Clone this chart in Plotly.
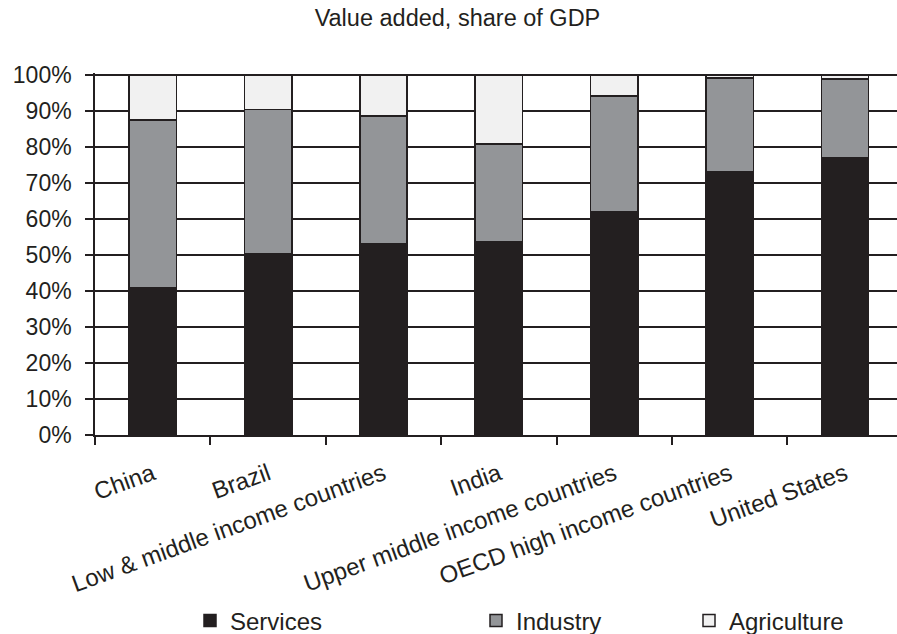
import plotly.graph_objects as go

categories = ["China", "Brazil", "Low & middle income countries", "India",
              "Upper middle income countries", "OECD high income countries", "United States"]
services = [41.0, 50.2, 53.0, 53.6, 61.9, 73.0, 76.9]
industry = [46.5, 40.1, 35.5, 27.2, 32.2, 26.1, 22.0]
agriculture = [12.5, 9.7, 11.5, 19.2, 5.9, 0.9, 1.1]

title_text = "Value added, share of GDP"
ytick_vals = [0, 10, 20, 30, 40, 50, 60, 70, 80, 90, 100]
ytick_text = [f"{v}%" for v in ytick_vals]

DARK = "#231f20"
FONT = "Liberation Sans, Arial, sans-serif"

fig = go.Figure()
series = [
    ("Services", services, DARK, "legend"),
    ("Industry", industry, "#939598", "legend2"),
    ("Agriculture", agriculture, "#f1f1f1", "legend3"),
]
for name, vals, color, lg in series:
    fig.add_trace(go.Bar(
        x=categories, y=vals, name=name, width=0.41,
        marker=dict(color=color, line=dict(color=DARK, width=1.5)),
        legend=lg,
    ))

W, H = 897, 634
ml, mr, mt, mb = 95, 0, 73, 199
leg_y = (435 - 621) / (H - mt - mb)
def px_to_paper(px):
    return (px - ml) / (W - ml - mr)

legend_common = dict(orientation="h", yanchor="middle", y=leg_y, xanchor="left",
                     font=dict(family=FONT, size=24, color=DARK),
                     bgcolor="rgba(0,0,0,0)", itemwidth=30, tracegroupgap=0)

fig.update_layout(
    width=W, height=H,
    margin=dict(l=ml, r=mr, t=mt, b=mb, autoexpand=False),
    paper_bgcolor="white", plot_bgcolor="white",
    barmode="stack", bargap=0.59,
    showlegend=True,
    title=dict(text=title_text, x=0.51, xanchor="center", y=1 - 18 / H, yanchor="middle",
               font=dict(family=FONT, size=23.5, color=DARK)),
    font=dict(family=FONT, color=DARK),
    legend=dict(x=px_to_paper(190), **legend_common),
    legend2=dict(x=px_to_paper(476), **legend_common),
    legend3=dict(x=px_to_paper(689), **legend_common),
    xaxis=dict(
        range=[-0.5, 6.45], showgrid=False, tickson="boundaries",
        ticks="outside", ticklen=8, tickwidth=1.5, tickcolor=DARK,
        showline=True, linecolor=DARK, linewidth=1.5,
        tickangle=-20, tickfont=dict(family=FONT, size=24, color=DARK),
        ticklabelstandoff=14,
        automargin=False,
    ),
    yaxis=dict(
        range=[0, 100.5], tickvals=ytick_vals, ticktext=ytick_text,
        showgrid=True, gridcolor=DARK, gridwidth=1.5,
        ticks="outside", ticklen=8, tickwidth=1.5, tickcolor=DARK,
        showline=True, linecolor=DARK, linewidth=1.5,
        tickfont=dict(family=FONT, size=23, color=DARK),
        ticklabelstandoff=9,
        zeroline=False, automargin=False,
    ),
)
fig.add_shape(type="line", xref="paper", yref="y", x0=0, x1=1, y0=100, y1=100,
              line=dict(color="#aaaaaa", width=1.5), layer="between")

fig.write_html("out.html")
